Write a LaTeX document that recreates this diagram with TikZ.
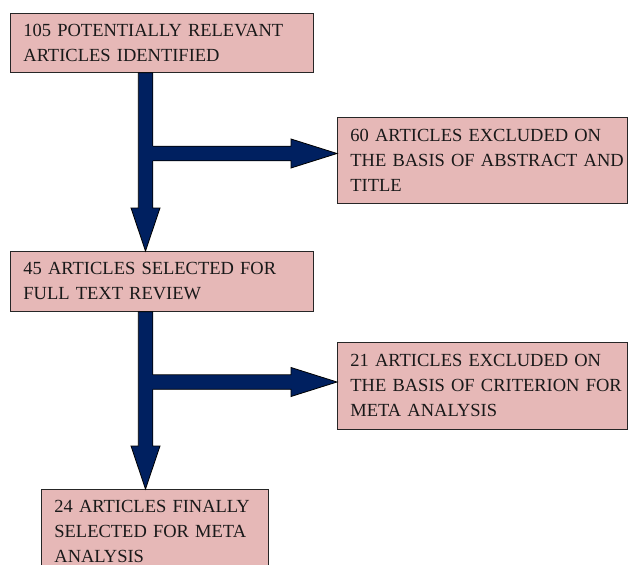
\documentclass[tikz,border=0pt]{standalone}
\usepackage{fontspec}
\setmainfont{Liberation Serif}
\usetikzlibrary{calc}
\definecolor{boxpink}{HTML}{E6B8B7}
\definecolor{navyblue}{HTML}{002060}
\tikzset{
  flowbox/.style={draw=black!85, line width=0.8pt, fill=boxpink, anchor=north west,
    align=left, inner xsep=13pt, inner ysep=0pt, text=black!90,
    font=\fontsize{18.5}{25}\selectfont},
  fatline/.style={draw=black, line width=0.8pt, line join=miter},
}
\newcommand\fatdown[2]{%
  \filldraw[fatline, fill=navyblue] let \p1=(#1), \p2=(#2) in
    (\x1-7.25pt,\y1) -- (\x1-7.25pt,\y2+43pt) -- (\x1-14.5pt,\y2+43pt) -- (\x1,\y2)
    -- (\x1+14.5pt,\y2+43pt) -- (\x1+7.25pt,\y2+43pt) -- (\x1+7.25pt,\y1) -- cycle;}
\newcommand\fatright[2]{%
  \fill[navyblue] let \p1=(#1), \p2=(#2) in
    (\x1-4pt,\y2-7.25pt) -- (\x2-46pt,\y2-7.25pt) -- (\x2-46pt,\y2-14.5pt) -- (\x2,\y2)
    -- (\x2-46pt,\y2+14.5pt) -- (\x2-46pt,\y2+7.25pt) -- (\x1-4pt,\y2+7.25pt) -- cycle;
  \draw[fatline] let \p1=(#1), \p2=(#2) in
    (\x1,\y2-7.25pt) -- (\x2-46pt,\y2-7.25pt) -- (\x2-46pt,\y2-14.5pt) -- (\x2,\y2)
    -- (\x2-46pt,\y2+14.5pt) -- (\x2-46pt,\y2+7.25pt) -- (\x1,\y2+7.25pt);}
\begin{document}
\begin{tikzpicture}[x=1pt,y=-1pt]
\useasboundingbox (0,0) rectangle (628,564);
\fill[white] (0,0) rectangle (628,564);

\node[flowbox, minimum width=303pt, minimum height=59pt, text width=277pt] (b1) at (10,13)
  {\mbox{105 POTENTIALLY RELEVANT}\\\mbox{ARTICLES IDENTIFIED}};
\node[flowbox, minimum width=290pt, minimum height=86pt, text width=264pt] (b2) at (337,117)
  {\mbox{60 ARTICLES EXCLUDED ON}\\\mbox{THE BASIS OF ABSTRACT AND}\\\mbox{TITLE}};
\node[flowbox, minimum width=303pt, minimum height=60pt, text width=277pt] (b3) at (10,251)
  {\mbox{45 ARTICLES SELECTED FOR}\\\mbox{FULL TEXT REVIEW}};
\node[flowbox, minimum width=290pt, minimum height=87pt, text width=264pt] (b4) at (337,342)
  {\mbox{21 ARTICLES EXCLUDED ON}\\\mbox{THE BASIS OF CRITERION FOR}\\\mbox{META ANALYSIS}};
\node[flowbox, minimum width=227pt, minimum height=84pt, text width=201pt] (b5) at (41,489)
  {\mbox{24 ARTICLES FINALLY}\\\mbox{SELECTED FOR META}\\\mbox{ANALYSIS}};

\coordinate (ax) at (145.5,0);
\coordinate (j1) at (152.75,153.5);
\coordinate (j2) at (152.75,382);

\fatdown{b1.south -| ax}{b3.north -| ax}
\fatdown{b3.south -| ax}{b5.north -| ax}
\fatright{j1}{b2.west |- j1}
\fatright{j2}{b4.west |- j2}
\end{tikzpicture}
\end{document}
